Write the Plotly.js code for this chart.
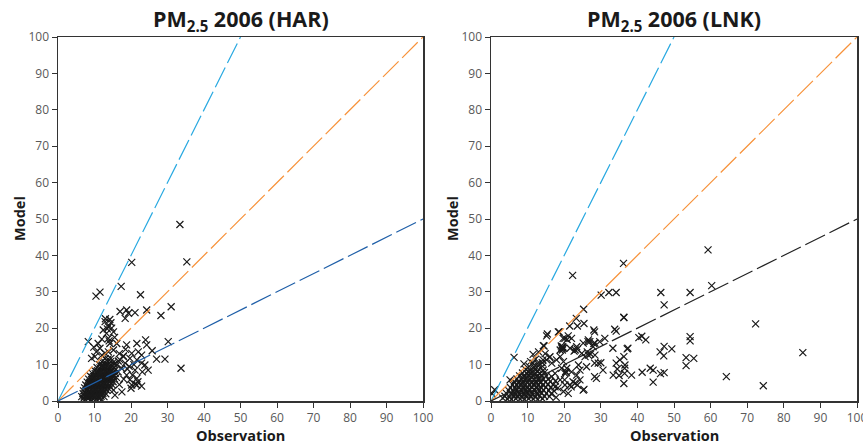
<!DOCTYPE html>
<html>
<head>
<meta charset="utf-8">
<script src="https://cdn.plot.ly/plotly-3.0.1.min.js"></script>
<style>html,body{margin:0;padding:0;background:#fff;}#chart{width:863px;height:444px;}</style>
</head>
<body>
<div id="chart"></div>
<script>
// Panel titles
const panelTitles = ["<b>PM<sub>2.5</sub> 2006 (HAR)</b>", "<b>PM<sub>2.5</sub> 2006 (LNK)</b>"];
const xTitle = "<b>Observation</b>";
const yTitle = "<b>Model</b>";
const tickVals = [0,10,20,30,40,50,60,70,80,90,100];

// Reference lines (model = slope * observation): 2:1, 1:1, 1:2
const refSlopes = [2, 1, 0.5];
const refColorsHAR = ["#29A9E1", "#F7923A", "#1F5FA8"];
const refColorsLNK = ["#29A9E1", "#F7923A", "#222222"];

// HAR: [observation, model]
const harPoints = [
 [6.8,0.5],[7.5,0.4],[8.2,0.6],[9.0,0.3],[9.7,0.5],[10.4,0.4],[11.3,0.6],[12.0,0.4],
 [6.5,1.2],[7.2,1.3],[8.0,1.1],[8.7,1.2],[9.5,1.3],[10.2,1.1],[11.0,1.2],[11.8,1.3],[12.6,1.2],
 [6.9,2.0],[7.6,2.1],[8.4,1.9],[9.1,2.0],[9.9,2.1],[10.6,1.9],[11.5,2.0],[12.3,2.1],[13.1,2.0],
 [7.0,2.8],[7.8,2.9],[8.6,2.7],[9.4,2.8],[10.1,2.9],[10.9,2.8],[11.7,2.7],[12.5,2.8],[13.4,2.9],
 [7.3,3.6],[8.1,3.5],[8.8,3.7],[9.6,3.6],[10.4,3.5],[11.2,3.7],[12.0,3.6],[12.8,3.5],[13.7,3.6],[14.5,3.7],
 [7.6,4.4],[8.3,4.3],[9.1,4.5],[9.9,4.4],[10.7,4.3],[11.5,4.5],[12.3,4.4],[13.1,4.3],[14.0,4.4],[14.8,4.5],
 [8.0,5.2],[8.7,5.1],[9.5,5.3],[10.3,5.2],[11.0,5.1],[11.8,5.3],[12.6,5.2],[13.4,5.1],[14.3,5.2],[15.1,5.3],
 [8.4,6.0],[9.2,5.9],[10.0,6.1],[10.8,6.0],[11.5,5.9],[12.3,6.1],[13.1,6.0],[13.9,5.9],[14.7,6.0],[15.5,6.1],
 [8.9,6.8],[9.7,6.7],[10.5,6.9],[11.2,6.8],[12.0,6.7],[12.8,6.9],[13.6,6.8],[14.4,6.7],[15.2,6.8],
 [9.4,7.6],[10.2,7.5],[11.0,7.7],[11.8,7.6],[12.5,7.5],[13.3,7.7],[14.1,7.6],[14.9,7.5],[15.7,7.6],
 [10.0,8.4],[10.8,8.3],[11.6,8.5],[12.4,8.4],[13.1,8.3],[13.9,8.5],[14.7,8.4],[15.5,8.3],
 [10.7,9.2],[11.5,9.1],[12.2,9.3],[13.0,9.2],[13.8,9.1],[14.6,9.3],[15.4,9.2],
 [11.3,10.0],[12.1,9.9],[12.9,10.1],[13.7,10.0],[14.5,9.9],[15.3,10.1],
 [12.0,10.8],[12.8,10.7],[13.6,10.9],[14.4,10.8],[15.2,10.7],
 [12.9,11.6],[13.7,11.5],[14.5,11.7],
 [7.9,1.6],[8.6,1.5],[9.3,1.7],[10.0,1.6],[10.8,1.5],[11.6,1.7],[8.2,3.2],[9.0,3.1],[9.8,3.3],
 [10.6,3.2],[11.4,3.1],[12.2,3.3],[13.0,3.2],[8.7,4.8],[9.5,4.7],[10.3,4.9],[11.1,4.8],[11.9,4.7],
 [12.7,4.9],[13.5,4.8],[9.4,6.4],[10.2,6.3],[11.0,6.5],[11.8,6.4],[12.6,6.3],[13.4,6.5],[14.2,6.4],
 [10.6,8.0],[11.4,7.9],[12.2,8.1],[13.0,8.0],[13.8,7.9],[14.6,8.1],[11.9,9.6],[12.7,9.5],[13.5,9.7],[14.3,9.6],
 [33.4,48.5],[35.3,38.2],[20.2,38.1],[10.4,28.8],[11.5,29.9],[17.3,31.5],[22.6,29.2],[17.0,24.6],
 [18.8,25.0],[19.3,24.1],[18.4,22.7],[21.1,24.3],[24.3,25.0],[31.0,25.9],[28.2,23.5],[12.9,21.8],
 [14.2,22.4],[13.8,20.4],[14.7,20.0],[15.2,19.0],[12.4,19.5],[13.3,18.6],[14.5,21.5],[13.0,22.6],
 [8.3,16.3],[11.0,15.8],[16.1,15.8],[18.8,15.4],[21.6,15.8],[24.0,16.8],[24.3,15.4],[13.8,17.2],
 [14.2,15.8],[30.2,16.3],[25.8,13.8],[27.0,11.5],[29.3,11.5],[33.7,9.0],[20.2,13.1],[22.0,13.5],
 [22.9,12.6],[17.9,12.2],[19.7,11.7],[21.6,11.3],[22.9,10.4],[23.8,9.9],[21.1,8.5],[20.4,7.1],
 [21.6,6.2],[20.2,4.4],[21.6,4.4],[23.1,8.0],[24.7,8.5],[18.8,7.1],[19.7,5.8],[21.1,4.7],
 [20.0,3.5],[22.9,4.1],[21.9,5.3],[15.6,1.6],[15.2,3.0],[17.4,9.0],[16.5,8.0],[18.4,10.4],
 [16.1,9.9],[17.0,11.3],[17.9,12.4],[13.8,13.5],[15.2,14.0],[12.9,13.1],[12.0,12.6],[10.1,12.2],
 [9.2,11.7],[16.8,13.0],[18.5,14.2],[19.5,9.5],[18.0,6.0],[16.8,4.5],[17.5,2.5],[19.0,8.8],
 [20.8,10.0],[16.0,6.5],[16.5,11.0],[14.0,16.5],[15.5,17.5],[12.0,17.0],[13.5,19.8],[11.5,14.5],
 [10.5,13.5],[9.8,14.8]
];

// LNK: [observation, model]
const lnkPoints = [
 [4.5,0.5],[5.6,0.4],[6.8,0.6],[8.0,0.5],[9.1,0.4],[10.3,0.6],[11.6,0.5],[12.8,0.4],[14.1,0.6],
 [3.8,1.3],[5.0,1.2],[6.2,1.4],[7.3,1.3],[8.5,1.2],[9.6,1.4],[10.8,1.3],[12.1,1.2],[13.3,1.4],[14.6,1.3],[16.0,1.2],
 [4.2,2.1],[5.4,2.0],[6.5,2.2],[7.7,2.1],[8.9,2.0],[10.0,2.2],[11.2,2.1],[12.5,2.0],[13.8,2.2],[15.1,2.1],[16.5,2.0],
 [4.8,2.9],[6.0,2.8],[7.1,3.0],[8.3,2.9],[9.4,2.8],[10.6,3.0],[11.9,2.9],[13.1,2.8],[14.4,3.0],[15.8,2.9],[17.2,2.8],
 [5.3,3.7],[6.5,3.6],[7.6,3.8],[8.8,3.7],[10.0,3.6],[11.2,3.8],[12.4,3.7],[13.7,3.6],[15.0,3.8],[16.3,3.7],
 [5.9,4.5],[7.0,4.4],[8.2,4.6],[9.3,4.5],[10.5,4.4],[11.7,4.6],[13.0,4.5],[14.2,4.4],[15.6,4.6],[17.0,4.5],
 [6.4,5.3],[7.6,5.2],[8.8,5.4],[9.9,5.3],[11.1,5.2],[12.3,5.4],[13.6,5.3],[14.9,5.2],[16.2,5.4],
 [7.1,6.1],[8.3,6.0],[9.5,6.2],[10.6,6.1],[11.8,6.0],[13.0,6.2],[14.3,6.1],[15.6,6.0],
 [7.8,6.9],[9.0,6.8],[10.2,7.0],[11.4,6.9],[12.6,6.8],[13.8,7.0],[15.1,6.9],
 [8.6,7.7],[9.8,7.6],[11.0,7.8],[12.2,7.7],[13.4,7.6],[14.6,7.8],
 [9.5,8.6],[10.7,8.5],[11.9,8.7],[13.1,8.6],[14.3,8.5],
 [10.4,9.5],[11.7,9.4],[12.9,9.6],[14.1,9.5],
 [11.5,10.4],[12.8,10.3],[14.0,10.5],
 [6.6,1.7],[7.9,1.6],[9.1,1.8],[10.3,1.7],[11.5,1.6],[12.8,1.8],[6.9,3.3],[8.1,3.2],[9.3,3.4],
 [10.5,3.3],[11.7,3.2],[13.0,3.4],[7.5,4.9],[8.7,4.8],[9.9,5.0],[11.1,4.9],[12.3,4.8],[13.5,5.0],
 [8.6,6.5],[9.8,6.4],[11.0,6.6],[12.2,6.5],[13.4,6.4],[10.2,8.1],[11.4,8.0],[12.6,8.2],
 [3.2,0.8],[5.2,5.8],[17.8,1.0],[18.3,3.6],[17.6,5.5],
 [59.3,41.5],[46.4,29.8],[54.4,29.8],[60.3,31.7],[47.3,26.4],[72.3,21.2],[54.4,17.7],[54.4,16.5],
 [47.3,15.0],[46.2,13.5],[47.2,12.4],[49.4,14.3],[53.3,11.9],[55.4,11.7],[53.3,9.7],[85.2,13.3],
 [64.3,6.7],[74.4,4.2],[46.3,7.5],[47.3,7.8],[44.3,5.2],[43.5,9.0],[44.3,8.5],[41.3,7.9],
 [36.2,37.8],[36.3,22.9],[40.4,17.4],[41.2,17.8],[42.3,16.8],[37.2,14.3],
 [36.3,12.2],[36.6,9.9],[36.5,9.0],[35.2,11.3],[34.2,10.4],[34.5,8.8],[33.4,7.1],[35.0,7.0],[36.5,7.6],[38.4,7.1],[36.3,4.8],
 [30.1,29.1],[32.2,29.8],[34.2,29.8],[25.3,25.2],[23.3,22.7],[25.4,21.3],[21.5,20.6],[23.6,20.6],
 [36.3,23.0],[15.4,18.4],[18.6,19.0],[19.7,17.2],[20.8,16.9],[28.1,19.5],[28.3,19.0],[33.8,19.7],
 [34.2,19.2],[26.5,16.3],[28.1,15.8],[31.1,17.2],[29.7,16.3],[33.3,14.5],[37.4,14.5],[14.5,15.1],
 [19.4,14.5],[19.5,14.0],[22.7,13.7],[23.6,14.2],[26.3,13.5],[27.2,12.9],[6.3,12.0],[10.8,10.8],
 [14.2,11.3],[16.0,12.0],[28.3,10.4],[30.0,10.5],[30.6,8.5],[28.3,6.7],[28.8,6.2],[25.4,3.2],
 [1.0,3.1],[0.3,2.0],[21.9,3.9],[23.6,4.4],[22.4,5.3],[20.1,5.8],
 [22.3,34.5],[14.3,15.2],[15.2,17.9],[18.4,19.0],[20.2,17.2],[19.6,14.9],[21.1,17.9],[22.0,17.2],
 [21.6,14.5],[23.0,14.0],[23.4,14.9],[25.2,15.9],[26.6,16.8],[27.0,16.3],[28.4,15.9],[27.9,14.9],
 [24.8,13.1],[25.7,12.2],[26.6,12.6],[28.4,12.6],[26.1,9.4],[24.3,8.5],[23.9,9.9],[29.3,10.4],
 [22.0,8.0],[23.4,7.1],[24.3,5.8],[23.0,4.9],[25.2,3.0],[20.2,7.6],[20.7,9.0],[19.3,9.0],
 [18.9,12.2],[17.9,11.3],[16.6,10.4],[19.8,10.8],[19.8,14.5],[18.9,14.0],[16.1,12.2],[15.2,11.3],
 [18.9,5.8],[20.2,4.4],[17.5,3.9],[21.6,4.4],[21.1,2.1],[19.8,2.6],[17.5,7.6],[16.6,6.7],
 [19.2,15.1],[19.4,14.7],[20.4,8.1],[20.6,7.8],[11.5,12.8],[13.0,13.5],[12.2,11.5],[14.8,13.0],[9.0,10.2]
];

const FONT = '"Open Sans", "DejaVu Sans", sans-serif';
const markerStyle = {symbol: 'x-thin', size: 7, color: '#1a1a1a', line: {width: 1.2, color: '#1a1a1a'}};

function scatterTrace(points, xa, ya) {
  return {
    type: 'scatter', mode: 'markers',
    x: points.map(p => p[0]), y: points.map(p => p[1]),
    xaxis: xa, yaxis: ya, marker: markerStyle, showlegend: false, hoverinfo: 'skip'
  };
}
function refTraces(colors, xa, ya) {
  return refSlopes.map((s, i) => {
    const xEnd = Math.min(100, 100 / s);
    return {
      type: 'scatter', mode: 'lines', x: [0, xEnd], y: [0, s * xEnd],
      xaxis: xa, yaxis: ya, showlegend: false, hoverinfo: 'skip',
      line: {color: colors[i], width: 1.2, dash: '22px,5px'}
    };
  });
}

const data = [
  scatterTrace(harPoints, 'x', 'y'),
  ...refTraces(refColorsHAR, 'x', 'y'),
  scatterTrace(lnkPoints, 'x2', 'y2'),
  ...refTraces(refColorsLNK, 'x2', 'y2')
];

const W = 863, H = 444;
function axis(domain, anchor) {
  return {
    domain: domain, anchor: anchor, range: [0, 100], autorange: false,
    tickvals: tickVals, ticktext: tickVals.map(String),
    ticks: 'outside', ticklen: 5, tickwidth: 1, tickcolor: '#333',
    tickfont: {family: FONT, size: 12, color: '#595959'},
    ticklabeloverflow: 'allow',
    showline: true, linecolor: '#333', linewidth: 1.5, mirror: true,
    showgrid: false, zeroline: false, automargin: false, fixedrange: true
  };
}
const xdomL = [58 / W, 423 / W], xdomR = [491 / W, 857 / W];
const ydom = [43 / H, 407 / H];

function ann(text, px, py, size, angle) {
  return {
    text: text, xref: 'paper', yref: 'paper', x: px / W, y: 1 - py / H,
    xanchor: 'center', yanchor: 'middle', showarrow: false, textangle: angle || 0,
    font: {family: FONT, size: size, color: '#1a1a1a'}
  };
}

const layout = {
  width: W, height: H, autosize: false,
  margin: {l: 0, r: 0, t: 0, b: 0, pad: 0},
  paper_bgcolor: '#fff', plot_bgcolor: '#fff',
  font: {family: FONT},
  xaxis: axis(xdomL, 'y'), yaxis: axis(ydom, 'x'),
  xaxis2: axis(xdomR, 'y2'), yaxis2: axis(ydom, 'x2'),
  annotations: [
    ann(panelTitles[0], 240.5, 20, 21.5),
    ann(panelTitles[1], 674, 20, 21.5),
    ann(xTitle, 240.5, 435, 14.5),
    ann(xTitle, 674, 435, 14.5),
    ann(yTitle, 20, 219, 14.5, -90),
    ann(yTitle, 453, 219, 14.5, -90)
  ]
};

Plotly.newPlot('chart', data, layout, {staticPlot: true, displayModeBar: false});
</script>
</body>
</html>
